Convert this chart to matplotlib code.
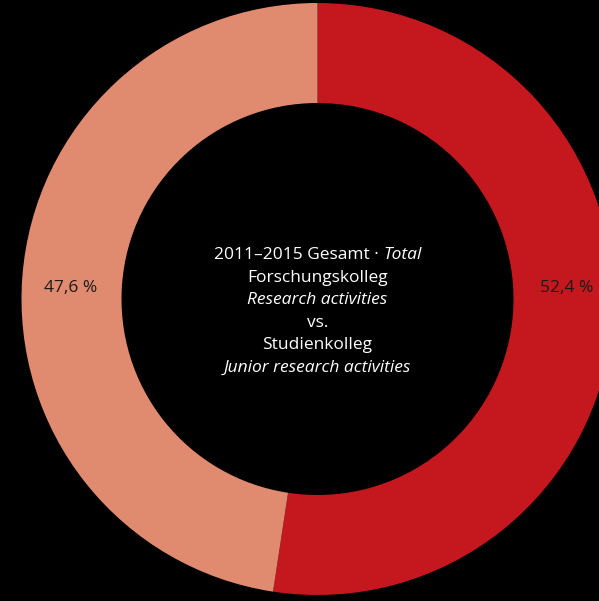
import matplotlib
matplotlib.use("Agg")
import matplotlib.pyplot as plt

# shares of the two programmes, 2011-2015
labels = ["Forschungskolleg", "Studienkolleg"]
shares = [52.4, 47.6]
share_labels = ["52,4 %", "47,6 %"]
colors = ["#c4171e", "#e08b70"]

title_plain = "2011\u20132015 Gesamt \u00b7 "
title_italic = "Total"
center_lines = [
    ("Forschungskolleg", "normal"),
    ("Research activities", "italic"),
    ("vs.", "normal"),
    ("Studienkolleg", "normal"),
    ("Junior research activities", "italic"),
]

W, H = 599, 601
plt.rcParams["font.family"] = ["Open Sans", "DejaVu Sans"]

fig = plt.figure(figsize=(W / 100, H / 100), dpi=100, facecolor="black")
ax = fig.add_axes([0, 0, 1, 1])
ax.set_facecolor("black")

cx, cy = 317.5, H - 299
R, r = 296, 196
wedges, _ = ax.pie(shares, colors=colors, startangle=90, counterclock=False,
                   radius=R, center=(cx, cy),
                   wedgeprops=dict(width=R - r, linewidth=0))
ax.set_xlim(0, W)
ax.set_ylim(0, H)
ax.set_aspect("equal")
ax.axis("off")

# value labels sit on the ring, level with the centre
rm = (R + r) / 2
ly = cy + 11
ax.text(cx + rm + 3, ly, share_labels[0], ha="center", va="center",
        fontsize=12.5, color="#1a1a1a")
ax.text(cx - rm - 1, ly, share_labels[1], ha="center", va="center",
        fontsize=12.5, color="#1a1a1a")

# centre caption, first line mixes upright and italic
fs = 12.5
renderer = fig.canvas.get_renderer()
y0 = H - 255
t1 = ax.text(0, y0, title_plain, ha="left", va="center", fontsize=fs, color="white")
t2 = ax.text(0, y0, title_italic, ha="left", va="center", fontsize=fs,
             color="white", style="italic")
w1 = t1.get_window_extent(renderer).width
w2 = t2.get_window_extent(renderer).width
x_start = cx - (w1 + w2) / 2
t1.set_x(x_start)
t2.set_x(x_start + w1)

step = 22.6
for i, (line, style) in enumerate(center_lines):
    ax.text(cx, y0 - step * (i + 1), line, ha="center", va="center",
            fontsize=fs, color="white", style=style)

fig.savefig("out.png", dpi=100, facecolor="black")
